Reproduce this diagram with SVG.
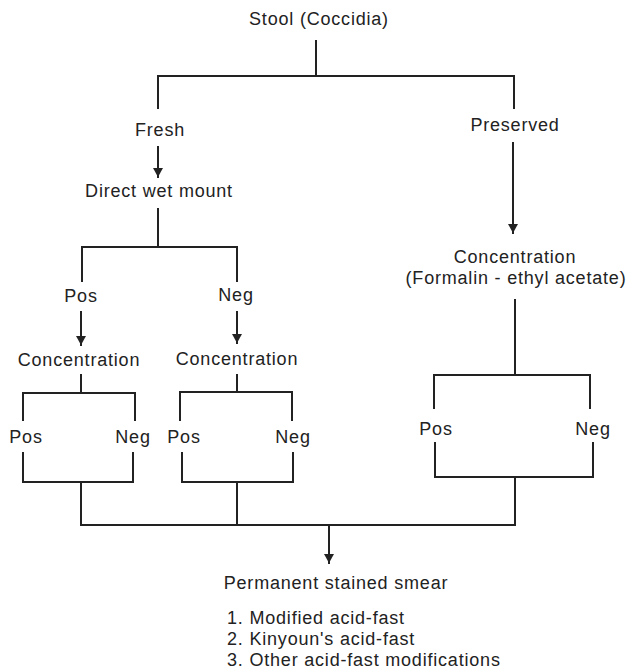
<svg xmlns="http://www.w3.org/2000/svg" width="626" height="670" viewBox="0 0 626 670">
<defs>
<style>
text{font-family:"Liberation Sans",Arial,sans-serif;font-size:18px;fill:#222;letter-spacing:0.8px}
.c{text-anchor:middle}
.l{fill:none;stroke:#222;stroke-width:2;stroke-linecap:square}
</style>
<marker id="ah" markerUnits="userSpaceOnUse" markerWidth="10" markerHeight="10" viewBox="0 0 8 9" refX="8" refY="4.5" orient="auto">
<path d="M0,0 L8,4.5 L0,9 z" fill="#222"/>
</marker>
</defs>
<rect width="626" height="670" fill="#fff"/>
<g id="connectors">
<path class="l" d="M316,41 V76 M158,76 H514 M158,76 V108 M514,76 V108"/>
<line class="l" x1="158" y1="147" x2="158" y2="177" marker-end="url(#ah)"/>
<line class="l" x1="513" y1="143" x2="513" y2="233" marker-end="url(#ah)"/>
<path class="l" d="M158,209 V247 M82,247 H237 M82,247 V281 M237,247 V281"/>
<line class="l" x1="81" y1="312" x2="81" y2="345" marker-end="url(#ah)"/>
<line class="l" x1="237" y1="312" x2="237" y2="343" marker-end="url(#ah)"/>
<path class="l" d="M81,375 V393 M23,393 H135 M23,393 V420 M135,393 V420"/>
<path class="l" d="M237,375 V392 M180,392 H292 M180,392 V420 M292,392 V420"/>
<path class="l" d="M515,300 V375 M434,375 H590 M434,375 V408 M590,375 V408"/>
<path class="l" d="M23,453 V482 H133 V453 M81,482 V525"/>
<path class="l" d="M182,453 V482 H293 V453 M237,482 V525"/>
<path class="l" d="M435,443 V477 H593 V443 M515,477 V525"/>
<path class="l" d="M81,525 H515"/>
<line class="l" x1="329" y1="525" x2="329" y2="563" marker-end="url(#ah)"/>
</g>
<g id="stool"><text class="c" x="319" y="24.5">Stool (Coccidia)</text></g>
<g id="fresh"><text class="c" x="160" y="135.5">Fresh</text></g>
<g id="preserved"><text class="c" x="515" y="130.5">Preserved</text></g>
<g id="direct-wet-mount"><text class="c" x="159" y="196.5">Direct wet mount</text></g>
<g id="pos1"><text class="c" x="81" y="301.5">Pos</text></g>
<g id="neg1"><text class="c" x="236" y="300.5">Neg</text></g>
<g id="concentration-left"><text class="c" x="79" y="365.5">Concentration</text></g>
<g id="concentration-mid"><text class="c" x="237" y="364.5">Concentration</text></g>
<g id="concentration-right"><text class="c" x="515" y="262.5">Concentration</text><text class="c" x="516" y="283.5">(Formalin - ethyl acetate)</text></g>
<g id="pos-left"><text class="c" x="26" y="442.5">Pos</text></g>
<g id="neg-left"><text class="c" x="133" y="442.5">Neg</text></g>
<g id="pos-mid"><text class="c" x="184" y="442.5">Pos</text></g>
<g id="neg-mid"><text class="c" x="293" y="442.5">Neg</text></g>
<g id="pos-right"><text class="c" x="436" y="434.5">Pos</text></g>
<g id="neg-right"><text class="c" x="593" y="434.5">Neg</text></g>
<g id="permanent-stained-smear"><text class="c" x="336" y="588.5">Permanent stained smear</text>
<text x="227" y="623.5">1. Modified acid-fast</text>
<text x="227" y="644.5">2. Kinyoun's acid-fast</text>
<text x="227" y="665.5">3. Other acid-fast modifications</text></g>
</svg>
